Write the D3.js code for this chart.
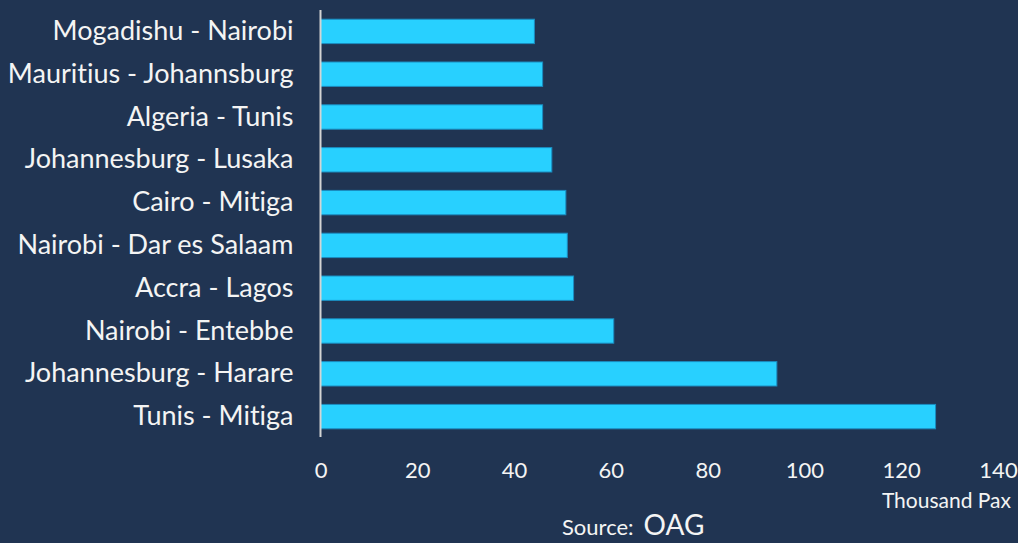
<!DOCTYPE html>
<html>
<head>
<meta charset="utf-8">
<script src="https://cdn.jsdelivr.net/npm/d3@7.9.0/dist/d3.min.js"></script>
<style>
  html, body { margin: 0; padding: 0; background: #203452; }
  svg { display: block; }
  text { font-family: Lato, "Open Sans", sans-serif; fill: #f4f4f4; font-variant-ligatures: none; }
</style>
</head>
<body>
<svg id="chart" width="1018" height="543"></svg>
<script>
// routes, top to bottom
const routes = [
  'Mogadishu - Nairobi',
  'Mauritius - Johannsburg',
  'Algeria - Tunis',
  'Johannesburg - Lusaka',
  'Cairo - Mitiga',
  'Nairobi - Dar es Salaam',
  'Accra - Lagos',
  'Nairobi - Entebbe',
  'Johannesburg - Harare',
  'Tunis - Mitiga'
];
// thousand passengers
const pax = [44.2, 45.9, 45.9, 47.8, 50.7, 51.0, 52.3, 60.6, 94.3, 127.1];
const xTicks = [0, 20, 40, 60, 80, 100, 120, 140];

const data = routes.map((r, i) => ({ route: r, value: pax[i] }));

const svg = d3.select('#chart');

const x = d3.scaleLinear().domain([0, 140]).range([320.5, 998]);
const y = d3.scaleBand().domain(routes).range([10, 438])
  .paddingInner(0.43).paddingOuter(0.215);

// bars
svg.append('g')
  .selectAll('rect')
  .data(data)
  .join('rect')
  .attr('x', x(0))
  .attr('y', d => y(d.route))
  .attr('width', d => x(d.value) - x(0))
  .attr('height', y.bandwidth())
  .attr('fill', '#28d0ff')
  .attr('stroke', '#1a8cc0')
  .attr('stroke-width', 1);

// category axis (its domain line is the vertical baseline)
const yAxis = svg.append('g')
  .attr('transform', `translate(${x(0)},0)`)
  .call(d3.axisLeft(y).tickSize(0).tickPadding(27));
yAxis.select('.domain')
  .attr('stroke', '#d4d4d4')
  .attr('stroke-width', 2)
  .attr('d', `M0,10V437`);
yAxis.selectAll('text')
  .attr('font-size', 27)
  .attr('fill', '#f4f4f4');

// value axis, labels only
const xAxis = svg.append('g')
  .attr('transform', 'translate(0,458)')
  .call(d3.axisBottom(x).tickValues(xTicks).tickSize(0).tickPadding(0));
xAxis.select('.domain').remove();
xAxis.selectAll('text')
  .attr('font-size', 22)
  .attr('dy', '0.71em')
  .attr('y', 4)
  .attr('fill', '#f4f4f4');

svg.append('text')
  .attr('x', 1011)
  .attr('y', 508)
  .attr('text-anchor', 'end')
  .attr('font-size', 21)
  .text('Thousand Pax');

const src = svg.append('text')
  .attr('x', 562)
  .attr('y', 535);
src.append('tspan').attr('font-size', 22).text('Source:');
src.append('tspan').attr('font-size', 28).attr('dx', 10).text('OAG');
</script>
</body>
</html>
